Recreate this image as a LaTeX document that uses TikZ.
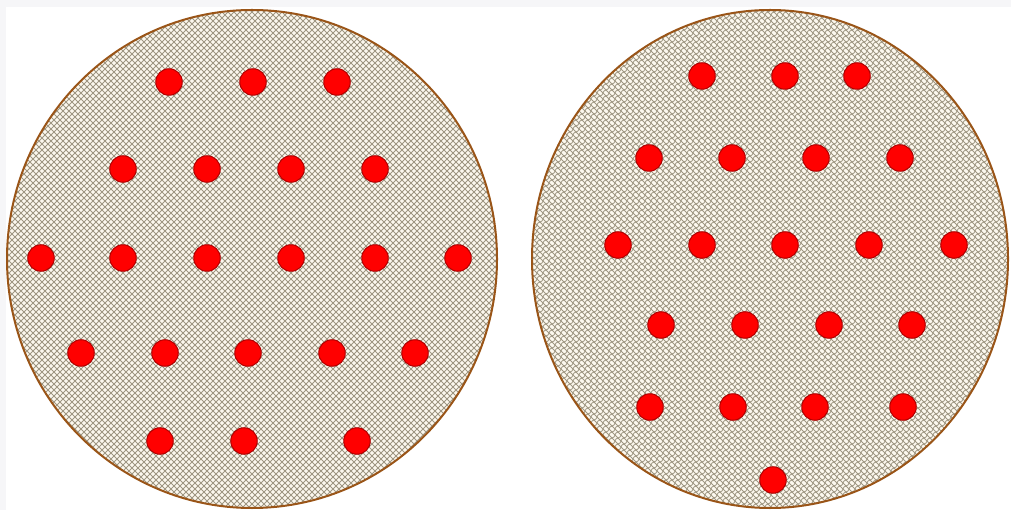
\documentclass[tikz,border=0pt]{standalone}
\usepackage{xcolor}
\usetikzlibrary{patterns,shapes.geometric}
\definecolor{cream}{HTML}{FCF8EE}
\definecolor{meshbrown}{HTML}{9E9682}
\definecolor{rimbrown}{HTML}{9A5518}
\definecolor{dotedge}{HTML}{B00000}
\definecolor{frame}{HTML}{F6F6F8}

% plain diagonal mesh
\pgfdeclarepatternformonly{diamondmesh}{\pgfqpoint{-1pt}{-1pt}}{\pgfqpoint{7pt}{7pt}}{\pgfqpoint{6pt}{6pt}}{
  \pgfsetlinewidth{0.8pt}
  \pgfpathmoveto{\pgfqpoint{0pt}{0pt}}\pgfpathlineto{\pgfqpoint{6pt}{6pt}}
  \pgfpathmoveto{\pgfqpoint{0pt}{6pt}}\pgfpathlineto{\pgfqpoint{6pt}{0pt}}
  \pgfusepath{stroke}
}
% wavy mesh
\pgfdeclarepatternformonly{wavemesh}{\pgfqpoint{-1pt}{-1pt}}{\pgfqpoint{7pt}{7pt}}{\pgfqpoint{6pt}{6pt}}{
  \pgfsetlinewidth{0.8pt}
  \pgfpathmoveto{\pgfqpoint{0pt}{0pt}}
  \pgfpathcurveto{\pgfqpoint{3.5pt}{0pt}}{\pgfqpoint{2.5pt}{6pt}}{\pgfqpoint{6pt}{6pt}}
  \pgfpathmoveto{\pgfqpoint{0pt}{6pt}}\pgfpathlineto{\pgfqpoint{6pt}{0pt}}
  \pgfusepath{stroke}
}

\begin{document}
\begin{tikzpicture}[
    x=1pt, y=-1pt,
    plate/.style = {ellipse, draw=rimbrown, line width=2pt, inner sep=0pt,
                    preaction={fill=cream}, pattern color=meshbrown},
    dot/.style = {circle, fill=red, draw=dotedge, line width=1pt,
                  minimum size=26.5pt, inner sep=0pt}
]
    \useasboundingbox (0,0) rectangle (1011,510);
    \fill[frame] (0,0) rectangle (1011,510);
    \fill[white] (6,7) rectangle (1011,510);

    \node[plate, pattern=diamondmesh, minimum width=490pt, minimum height=498pt] (left) at (252,259) {};
    \node[plate, pattern=wavemesh, minimum width=476pt, minimum height=498pt] (right) at (770,259) {};

    % left plate
    \foreach \y/\xs [count=\r] in {82/{169,253,337}, 169/{123,207,291,375},
        258/{41,123,207,291,375,458}, 353/{81,165,248,332,415}, 441/{160,244,357}} {
        \foreach \x [count=\c] in \xs
            \node[dot] (l-\r-\c) at (\x,\y) {};
    }

    % right plate
    \foreach \y/\xs [count=\r] in {76/{702,785,857}, 158/{649,732,816,900},
        245/{618,702,785,869,954}, 325/{661,745,829,912}, 407/{650,733,815,903}, 480/{773}} {
        \foreach \x [count=\c] in \xs
            \node[dot] (r-\r-\c) at (\x,\y) {};
    }
\end{tikzpicture}
\end{document}
